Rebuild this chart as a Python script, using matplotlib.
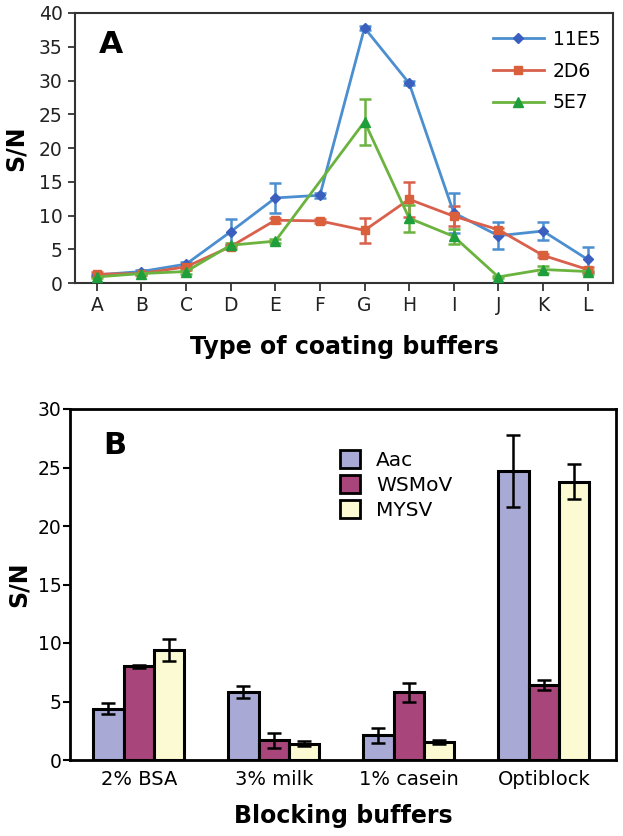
import numpy as np
import matplotlib
matplotlib.use("Agg")
import matplotlib.pyplot as plt
from matplotlib.patches import Patch

plt.rcParams['font.family'] = ['DejaVu Sans']

# ---- Panel A data ----
coating = ['A', 'B', 'C', 'D', 'E', 'F', 'G', 'H', 'I', 'J', 'K', 'L']
s11E5 = [1.2, 1.7, 2.8, 7.6, 12.6, 13.0, 37.8, 29.6, 10.4, 7.0, 7.7, 3.5]
e11E5 = [0.2, 0.2, 0.3, 1.9, 2.2, 0.4, 0.3, 0.3, 3.0, 2.0, 1.4, 1.9]
s2D6 = [1.3, 1.4, 2.4, 5.4, 9.3, 9.2, 7.8, 12.4, 9.9, 7.9, 4.1, 2.0]
e2D6 = [0.3, 0.2, 0.3, 0.3, 0.4, 0.3, 1.8, 2.6, 1.5, 0.3, 0.2, 0.3]
s5E7 = [0.9, 1.4, 1.7, 5.6, 6.2, None, 23.9, 9.6, 6.9, 0.9, 2.0, 1.7]
e5E7 = [0.2, 0.2, 0.3, 0.3, 0.3, None, 3.4, 2.0, 1.1, 0.2, 0.5, 0.3]
series_A = ['11E5', '2D6', '5E7']

# ---- Panel B data ----
blocking = ['2% BSA', '3% milk', '1% casein', 'Optiblock']
aac = [4.4, 5.8, 2.1, 24.7]
aac_err = [0.5, 0.5, 0.65, 3.1]
wsmov = [8.0, 1.7, 5.8, 6.4]
wsmov_err = [0.15, 0.65, 0.8, 0.4]
mysv = [9.4, 1.4, 1.55, 23.8]
mysv_err = [0.95, 0.2, 0.15, 1.5]
series_B = ['Aac', 'WSMoV', 'MYSV']

W, H = 623, 836
fig = plt.figure(figsize=(W / 100, H / 100), dpi=100)

# ---------------- Panel A ----------------
axA = fig.add_axes([75 / W, 1 - 283 / H, (613 - 75) / W, (283 - 13) / H])
x = np.arange(len(coating))
styles = [
    (s11E5, e11E5, '#4b8fd0', '#3a5fbf', 'D', 5),
    (s2D6, e2D6, '#d9604c', '#d9603a', 's', 6),
    (s5E7, e5E7, '#6bb33f', '#1f9f3c', '^', 7),
]
handles = []
for (vals, errs, lc, mc, mk, ms), name in zip(styles, series_A):
    v = np.array([np.nan if a is None else a for a in vals], dtype=float)
    e = np.array([np.nan if a is None else a for a in errs], dtype=float)
    ok = ~np.isnan(v)
    axA.errorbar(x[ok], v[ok], yerr=e[ok], fmt='none', ecolor=lc,
                 elinewidth=1.8, capsize=4, capthick=1.8, zorder=2)
    h, = axA.plot(x[ok], v[ok], color=lc, lw=2, marker=mk, ms=ms,
                  mfc=mc, mec=mc, zorder=3, label=name)
    handles.append(h)

axA.set_xlim(-0.49, 11.57)
axA.set_ylim(0, 40)
axA.set_xticks(x)
axA.set_xticklabels(coating, fontsize=13.5)
axA.set_yticks(np.arange(0, 41, 5))
axA.tick_params(axis='y', labelsize=13.5, direction='out', length=5, width=1.2, pad=4,
                colors='#222222')
axA.tick_params(axis='x', direction='out', length=6, width=1.2, pad=3.5, colors='#222222')
for sp in axA.spines.values():
    sp.set_color('#333333')
    sp.set_linewidth(1.5)
axA.set_ylabel('S/N', fontsize=17, fontweight='bold', labelpad=7.5)
axA.set_xlabel('Type of coating buffers', fontsize=17, fontweight='bold', labelpad=14)
axA.text(0.045, 0.885, 'A', transform=axA.transAxes, fontsize=22.5, fontweight='bold',
         va='center', ha='left')
axA.legend(handles=handles, loc='upper left', bbox_to_anchor=(493 / W, 1 - 30 / H),
           bbox_transform=fig.transFigure, frameon=False, fontsize=13.5,
           handlelength=2.7, handletextpad=0.5, labelspacing=0.68,
           borderpad=0, borderaxespad=0)

# ---------------- Panel B ----------------
axB = fig.add_axes([70 / W, 1 - 760 / H, (616 - 70) / W, (760 - 409) / H])
xb = np.arange(len(blocking))
bw = 0.225
colors_B = ['#a9a9d6', '#a8457a', '#fbfad2']
patches = []
for i, (vals, errs, c, name) in enumerate(zip([aac, wsmov, mysv], [aac_err, wsmov_err, mysv_err],
                                              colors_B, series_B)):
    pos = xb + (i - 1) * bw
    axB.bar(pos, vals, width=bw, color=c, edgecolor='black', linewidth=2.2, zorder=2)
    axB.errorbar(pos, vals, yerr=errs, fmt='none', ecolor='black', elinewidth=1.8,
                 capsize=5, capthick=1.8, zorder=3)
    patches.append(Patch(facecolor=c, edgecolor='black', linewidth=2, label=name))

axB.set_xlim(-0.51, 3.535)
axB.set_ylim(0, 30)
axB.set_xticks(xb)
axB.set_xticklabels(blocking, fontsize=14)
axB.set_yticks(np.arange(0, 31, 5))
axB.tick_params(axis='y', labelsize=13.5, direction='out', length=5, width=1.5, pad=1)
axB.tick_params(axis='x', length=0, pad=7)
for sp in axB.spines.values():
    sp.set_color('black')
    sp.set_linewidth(2)
axB.set_ylabel('S/N', fontsize=17, fontweight='bold', labelpad=5)
axB.set_xlabel('Blocking buffers', fontsize=17, fontweight='bold', labelpad=11)
axB.text(0.06, 0.895, 'B', transform=axB.transAxes, fontsize=22, fontweight='bold',
         va='center', ha='left')
axB.legend(handles=patches, loc='upper left', bbox_to_anchor=(340 / W, 1 - 450 / H),
           bbox_transform=fig.transFigure, frameon=False, fontsize=14.5,
           handlelength=1.0, handleheight=1.0, handletextpad=0.8, labelspacing=0.25,
           borderpad=0, borderaxespad=0)

fig.savefig('out.png', dpi=100)
